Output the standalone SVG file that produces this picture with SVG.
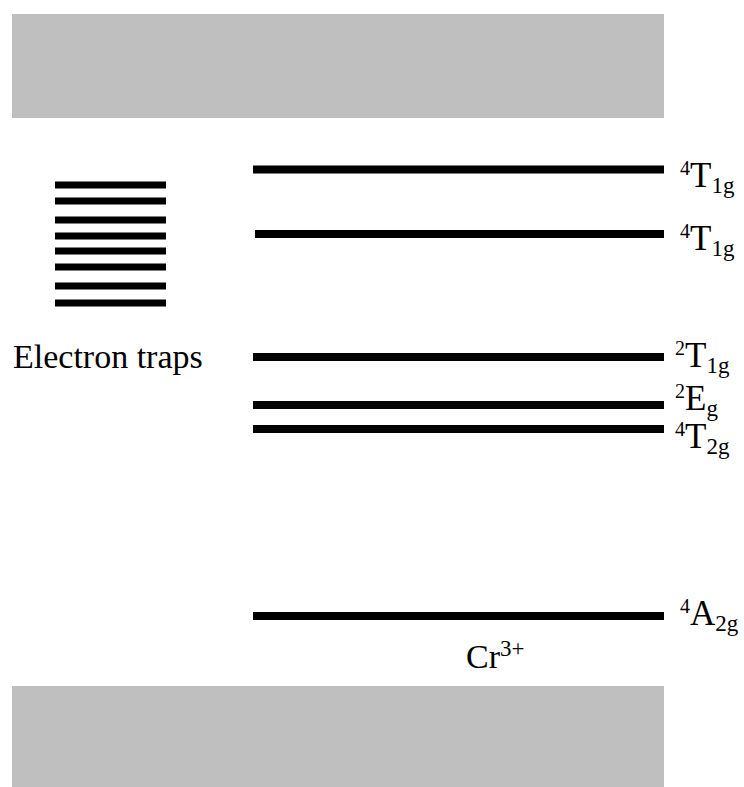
<svg xmlns="http://www.w3.org/2000/svg" width="744" height="787" viewBox="0 0 744 787">
<style>
.band{fill:#bfbfbf}
.lvl{stroke:#000;stroke-width:8}
.trap{stroke:#000;stroke-width:7}
text{font-family:"Liberation Serif","Times New Roman",serif;fill:#000}
.lab{font-size:34px}
.st{font-size:35px}
.sup{font-size:20px}
.sub{font-size:23px}
</style>
<rect id="conduction-band" class="band" x="12" y="14" width="652" height="104"/>
<rect id="valence-band" class="band" x="12" y="686" width="652" height="101"/>
<g id="electron-traps">
<line class="trap" x1="55" y1="185" x2="166" y2="185"/>
<line class="trap" x1="55" y1="201" x2="166" y2="201"/>
<line class="trap" x1="55" y1="220" x2="166" y2="220"/>
<line class="trap" x1="55" y1="236" x2="166" y2="236"/>
<line class="trap" x1="55" y1="251" x2="166" y2="251"/>
<line class="trap" x1="55" y1="267" x2="166" y2="267"/>
<line class="trap" x1="55" y1="286" x2="166" y2="286"/>
<line class="trap" x1="55" y1="303" x2="166" y2="303"/>
<text class="lab" x="13" y="368">Electron traps</text>
</g>
<g id="level-4T1g-upper">
<line class="lvl" x1="253" y1="169.5" x2="664" y2="169.5"/>
<text class="st" x="680" y="187"><tspan class="sup" dy="-12">4</tspan><tspan dy="12">T</tspan><tspan class="sub" dy="6">1g</tspan></text>
</g>
<g id="level-4T1g-lower">
<line class="lvl" x1="255" y1="234" x2="664" y2="234"/>
<text class="st" x="680" y="250"><tspan class="sup" dy="-12">4</tspan><tspan dy="12">T</tspan><tspan class="sub" dy="6">1g</tspan></text>
</g>
<g id="level-2T1g">
<line class="lvl" x1="253" y1="357" x2="664" y2="357"/>
<text class="st" x="675" y="367"><tspan class="sup" dy="-12">2</tspan><tspan dy="12">T</tspan><tspan class="sub" dy="6">1g</tspan></text>
</g>
<g id="level-2Eg">
<line class="lvl" x1="253" y1="405" x2="664" y2="405"/>
<text class="st" x="675" y="410"><tspan class="sup" dy="-12">2</tspan><tspan dy="12">E</tspan><tspan class="sub" dy="6">g</tspan></text>
</g>
<g id="level-4T2g">
<line class="lvl" x1="253" y1="429" x2="664" y2="429"/>
<text class="st" x="675" y="448"><tspan class="sup" dy="-12">4</tspan><tspan dy="12">T</tspan><tspan class="sub" dy="6">2g</tspan></text>
</g>
<g id="level-4A2g">
<line class="lvl" x1="253" y1="616" x2="664" y2="616"/>
<text class="st" x="680" y="625"><tspan class="sup" dy="-12">4</tspan><tspan dy="12">A</tspan><tspan class="sub" dy="6">2g</tspan></text>
</g>
<g id="cr-label">
<text class="lab" x="466" y="668">Cr<tspan class="sup" dy="-12" style="font-size:23px">3+</tspan></text>
</g>
</svg>
